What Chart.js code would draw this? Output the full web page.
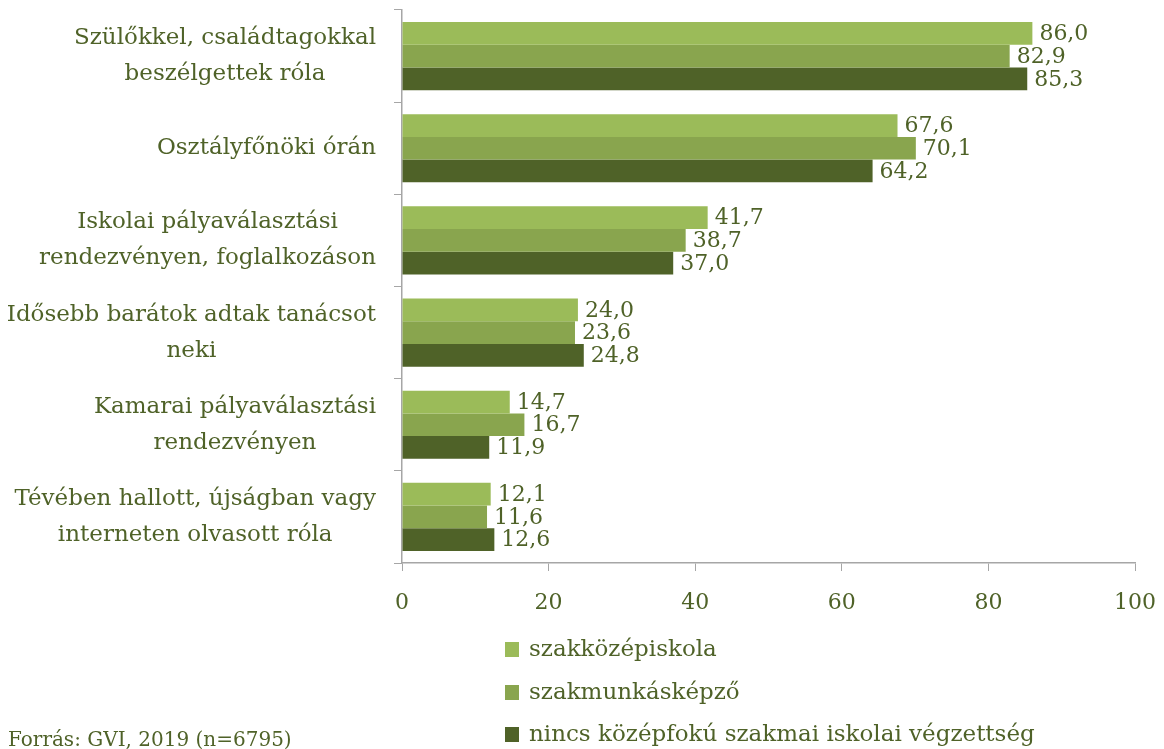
<!DOCTYPE html>
<html>
<head>
<meta charset="utf-8">
<script src="https://cdn.jsdelivr.net/npm/chart.js@4/dist/chart.umd.min.js"></script>
<style>
  html, body { margin: 0; padding: 0; background: #fff; }
  #wrap { position: relative; width: 1164px; height: 749px; }
  #legend { position: absolute; left: 505px; top: 632px; font-family: "DejaVu Serif", serif; font-size: 23px; color: #4f6228; }
  #legend div { height: 42.5px; line-height: 32px; white-space: nowrap; }
  #legend span { display: inline-block; width: 14px; height: 15px; margin-right: 10px; vertical-align: -1px; }
  #source { position: absolute; left: 8px; top: 727px; font-family: "DejaVu Serif", serif; font-size: 20px; color: #4f6228; }
</style>
</head>
<body>
<div id="wrap">
  <canvas id="chart" width="1164" height="749"></canvas>
  <div id="legend"></div>
  <div id="source">Forrás: GVI, 2019 (n=6795)</div>
</div>
<script>
const categories = [
  ['Szülőkkel, családtagokkal', 'beszélgettek róla'],
  ['Osztályfőnöki órán'],
  ['Iskolai pályaválasztási', 'rendezvényen, foglalkozáson'],
  ['Idősebb barátok adtak tanácsot', 'neki'],
  ['Kamarai pályaválasztási', 'rendezvényen'],
  ['Tévében hallott, újságban vagy', 'interneten olvasott róla']
];
const seriesNames = ['szakközépiskola', 'szakmunkásképző', 'nincs középfokú szakmai iskolai végzettség'];
const szakkozep = [86.0, 67.6, 41.7, 24.0, 14.7, 12.1];
const szakmunkas = [82.9, 70.1, 38.7, 23.6, 16.7, 11.6];
const nincs = [85.3, 64.2, 37.0, 24.8, 11.9, 12.6];
const colors = ['#9bbb59', '#89a54e', '#4f6228'];
const xTicks = [0, 20, 40, 60, 80, 100];

const textColor = '#4f6228';
const font = '"DejaVu Serif", serif';

// value labels at bar ends
const valueLabels = {
  id: 'valueLabels',
  afterDatasetsDraw(chart) {
    const ctx = chart.ctx;
    ctx.save();
    ctx.font = '22px ' + font;
    ctx.fillStyle = textColor;
    ctx.textAlign = 'left';
    ctx.textBaseline = 'middle';
    chart.data.datasets.forEach((ds, i) => {
      chart.getDatasetMeta(i).data.forEach((bar, j) => {
        ctx.fillText(ds.data[j].toFixed(1).replace('.', ','), bar.x + 7, bar.y + 1);
      });
    });
    ctx.restore();
  }
};

// category labels: block right-aligned, lines centred within block
const categoryLabels = {
  id: 'categoryLabels',
  afterDraw(chart) {
    const ctx = chart.ctx;
    const y = chart.scales.y;
    ctx.save();
    ctx.font = '23px ' + font;
    ctx.fillStyle = textColor;
    ctx.textAlign = 'center';
    ctx.textBaseline = 'middle';
    const lineH = 36;
    categories.forEach((lines, i) => {
      const w = Math.max(...lines.map(l => ctx.measureText(l).width));
      const cx = 376 - w / 2;
      const cy = y.getPixelForValue(i);
      lines.forEach((l, k) => {
        ctx.fillText(l, cx, cy + (k - (lines.length - 1) / 2) * lineH);
      });
    });
    ctx.restore();
  }
};

new Chart(document.getElementById('chart').getContext('2d'), {
  type: 'bar',
  data: {
    labels: categories,
    datasets: [
      { label: seriesNames[0], data: szakkozep, backgroundColor: colors[0] },
      { label: seriesNames[1], data: szakmunkas, backgroundColor: colors[1] },
      { label: seriesNames[2], data: nincs, backgroundColor: colors[2] }
    ]
  },
  options: {
    indexAxis: 'y',
    responsive: false,
    animation: false,
    layout: { padding: { top: 10, right: 29, bottom: 126, left: 0 } },
    datasets: { bar: { categoryPercentage: 0.74, barPercentage: 1.0 } },
    plugins: { legend: { display: false }, tooltip: { enabled: false } },
    scales: {
      x: {
        min: 0, max: 100,
        afterBuildTicks: scale => { scale.ticks = xTicks.map(v => ({ value: v })); },
        afterFit: scale => { scale.height = 60; scale.paddingLeft = 0; scale.paddingRight = 0; },
        grid: { drawOnChartArea: false, color: '#a6a6a6', tickLength: 8 },
        border: { color: '#a6a6a6', width: 1.5 },
        ticks: { color: textColor, font: { family: font, size: 22 }, padding: 19 }
      },
      y: {
        afterFit: scale => { scale.width = 402; },
        grid: { drawOnChartArea: false, color: '#a6a6a6', tickLength: 8, offset: true },
        border: { color: '#a6a6a6', width: 1.5 },
        ticks: { display: false }
      }
    }
  },
  plugins: [valueLabels, categoryLabels]
});

const legend = document.getElementById('legend');
seriesNames.forEach((n, i) => {
  const d = document.createElement('div');
  d.innerHTML = '<span style="background:' + colors[i] + '"></span>' + n;
  legend.appendChild(d);
});
</script>
</body>
</html>
